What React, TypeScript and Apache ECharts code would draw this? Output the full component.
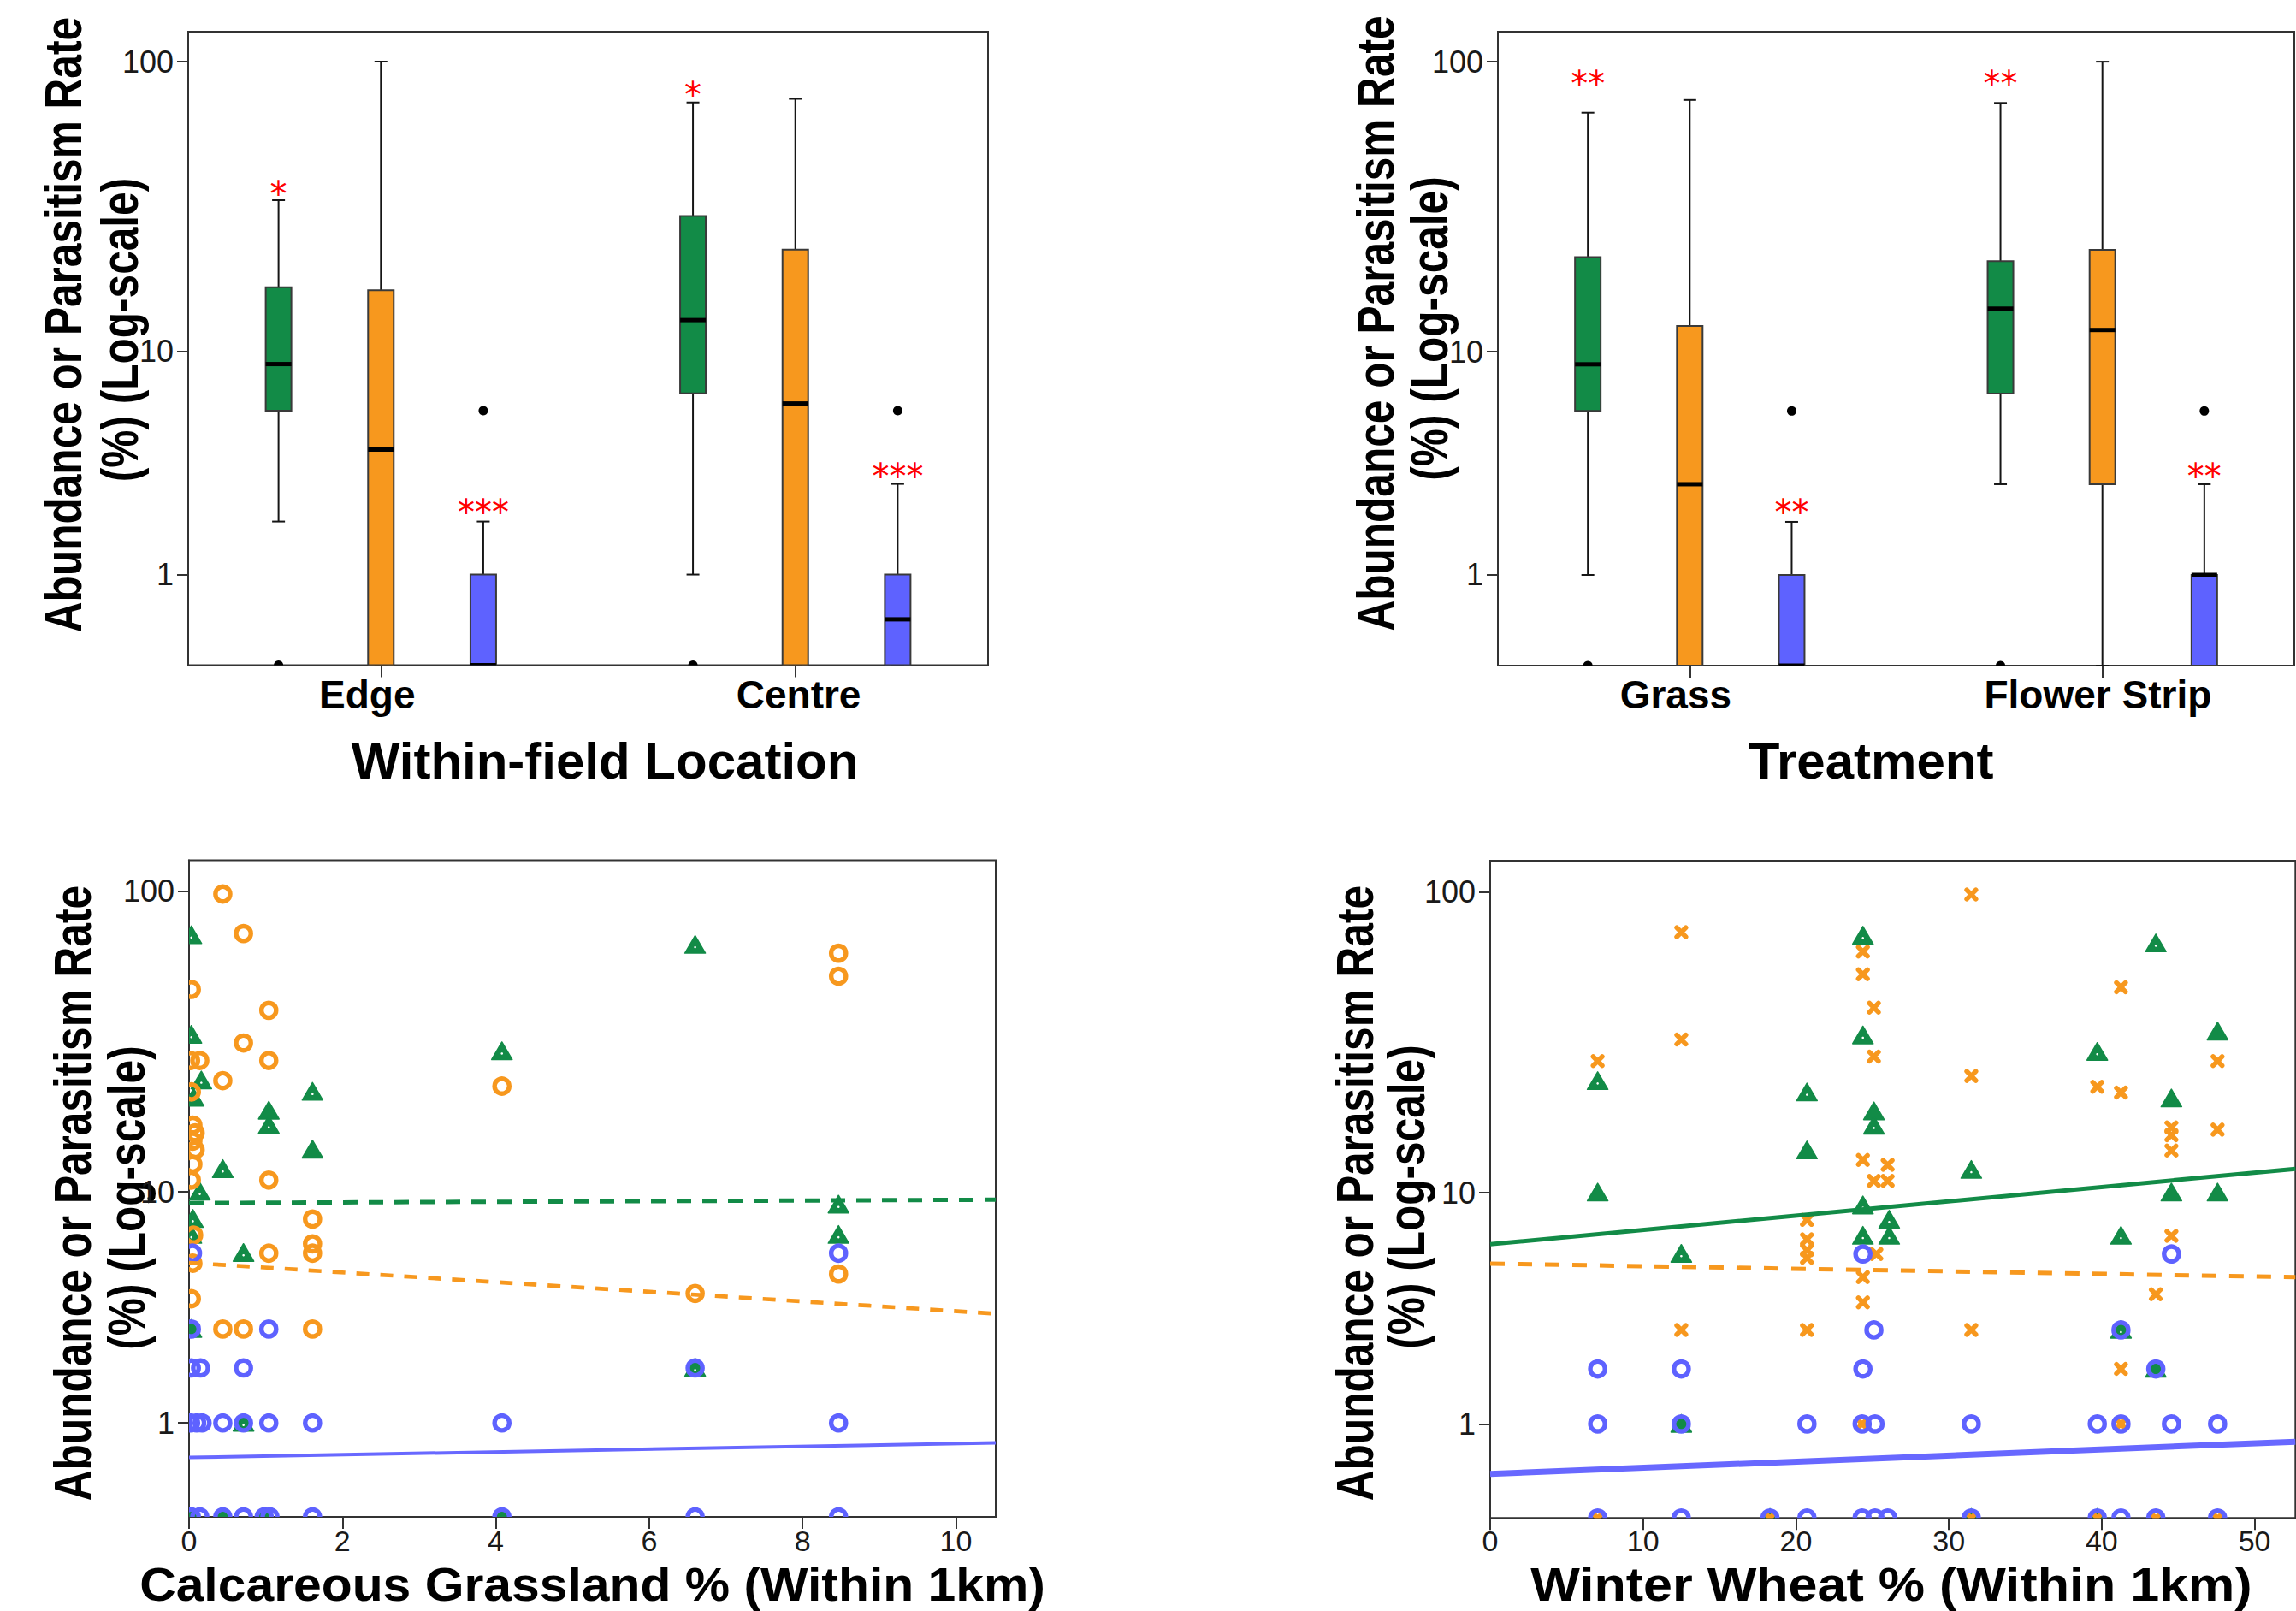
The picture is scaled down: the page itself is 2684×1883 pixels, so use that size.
import React, { useEffect, useRef } from 'react';
import * as echarts from 'echarts';

// ---------------- colours ----------------
const GREEN = '#128B47';
const ORANGE = '#F7981E';
const BLUE = '#5E62FF';
const BLUE_LINE = '#6868FF';
const STAR_RED = '#FF0000';
const AXIS = '#333333';

// log(v+1) scale used by the original figure
const Y_MAX = 2.104;
const T = (v: number) => Math.log10(v + 1);

// ---------------- top panels (box plots) ----------------
const locationCategories = ['Edge', 'Centre'];
const treatmentCategories = ['Grass', 'Flower Strip'];
const yTickValues = [1, 10, 100];
// where the category names sit (slightly off their ticks in the original)
const locationLabelPos = [0.967, 2.008];
const treatmentLabelPos = [0.966, 1.989];

// [min, q1, median, q3, max] per category
const locationGreenBox = [[2, 6, 9, 17, 34], [1, 7, 13, 30, 73]];
const locationOrangeBox = [[0, 0, 4.2, 16.6, 100], [0, 0, 6.4, 23, 75]];
const locationBlueBox = [[0, 0, 0, 1, 2], [0, 0, 0.42, 1, 3]];
const locationGreenOutliers = [0, 0];
const locationBlueOutliers = [6, 6];
const locationStarText = ['*', '***', '*', '***'];
const locationStarCategory = [0, 0, 1, 1];
const locationStarGroup = [0, 2, 0, 2];
const locationStarValue = [38, 2.4, 82, 3.5];

const treatmentGreenBox = [[1, 6, 9, 21.7, 67.4], [3, 7, 14.3, 21, 72.7]];
const treatmentOrangeBox = [[0, 0, 3, 12.4, 74.4], [0, 3, 12, 23, 100]];
const treatmentBlueBox = [[0, 0, 0, 1, 2], [0, 0, 1, 1, 3]];
const treatmentGreenOutliers = [0, 0];
const treatmentBlueOutliers = [6, 6];
const treatmentStarText = ['**', '**', '**', '**'];
const treatmentStarCategory = [0, 0, 1, 1];
const treatmentStarGroup = [0, 2, 0, 2];
const treatmentStarValue = [89.4, 2.41, 89.4, 3.5];

// ---------------- bottom-left: Calcareous Grassland % ----------------
const calcTicks = [0, 2, 4, 6, 8, 10];
const calcGreen = [[0.03, 72], [0.03, 34], [0.16, 24], [0.06, 21], [1.04, 19], [1.04, 17], [1.61, 22], [1.61, 14], [0.44, 12], [0.14, 10], [0.05, 8], [0.03, 7], [0.71, 6], [0.03, 3], [0.71, 1], [0.03, 0], [0.44, 0], [0.98, 0], [4.08, 30], [4.08, 0], [6.6, 67], [6.6, 2], [8.47, 9], [8.47, 7]];
const calcOrange = [[0.44, 98], [0.71, 73], [0.03, 48], [1.04, 41], [0.71, 32], [1.04, 28], [0.02, 28], [0.14, 28], [0.44, 24], [0.03, 22], [0.05, 17], [0.08, 16], [0.05, 15], [0.08, 14], [0.05, 12.5], [0.03, 11], [1.04, 11], [1.61, 8], [0.06, 7], [1.61, 6.5], [1.61, 6], [1.04, 6], [0.05, 5.5], [0.03, 4], [0.44, 3], [0.71, 3], [1.61, 3], [4.08, 23], [6.6, 4.2], [8.47, 63], [8.47, 53], [8.47, 5]];
const calcBlue = [[0.045, 6], [8.47, 6], [0.03, 3], [1.04, 3], [0.03, 2], [0.15, 2], [0.71, 2], [6.6, 2], [0.02, 1], [0.1, 1], [0.17, 1], [0.44, 1], [0.71, 1], [1.04, 1], [1.61, 1], [4.08, 1], [8.47, 1], [0.03, 0], [0.14, 0], [0.44, 0], [0.71, 0], [0.98, 0], [1.055, 0], [1.61, 0], [4.08, 0], [6.6, 0], [8.47, 0]];
const calcGreenFit = [[0, 9.13], [10.52, 9.38]];
const calcOrangeFit = [[0, 5.52], [10.52, 3.48]];
const calcBlueFit = [[0, 0.55], [10.52, 0.726]];

// ---------------- bottom-right: Winter Wheat % ----------------
const wheatTicks = [0, 10, 20, 30, 40, 50];
const wheatGreen = [[24.38, 72], [24.38, 34], [7.03, 24], [20.72, 22], [25.1, 19], [25.1, 17], [20.72, 14], [7.03, 10], [24.38, 9], [24.38, 7], [12.5, 6], [26.1, 8], [26.1, 7], [31.47, 12], [41.26, 7], [44.56, 10], [47.58, 10], [43.54, 68], [47.58, 35], [39.71, 30], [44.56, 21], [41.26, 3], [43.54, 2], [12.5, 1], [18.3, 0], [31.47, 0], [39.71, 0]];
const wheatOrange = [[12.5, 74], [12.5, 33], [7.03, 28], [24.38, 64], [24.38, 54], [25.1, 42], [25.1, 29], [24.38, 13], [25.1, 11], [26.0, 12.5], [26.0, 11], [20.72, 8], [20.72, 6.8], [20.72, 6.2], [20.72, 5.8], [25.26, 6], [24.38, 4.9], [24.38, 3.9], [12.5, 3], [20.72, 3], [31.47, 98], [31.47, 25], [31.47, 3], [41.26, 49], [41.26, 22], [39.71, 23], [47.58, 28], [47.58, 16.5], [44.56, 16.8], [44.56, 15.8], [44.56, 14], [44.56, 7], [43.54, 4.2], [41.26, 2], [24.33, 1], [41.26, 1], [7.03, 0], [18.3, 0], [31.47, 0], [39.71, 0], [43.54, 0], [47.58, 0]];
const wheatBlue = [[24.38, 6], [44.56, 6], [25.1, 3], [41.26, 3], [7.03, 2], [12.5, 2], [24.38, 2], [43.54, 2], [7.03, 1], [12.5, 1], [20.72, 1], [24.33, 1], [25.17, 1], [31.47, 1], [39.71, 1], [41.26, 1], [44.56, 1], [47.58, 1], [7.03, 0], [12.5, 0], [18.3, 0], [20.72, 0], [24.33, 0], [25.17, 0], [26.0, 0], [31.47, 0], [39.71, 0], [41.26, 0], [43.54, 0], [47.58, 0]];
const wheatGreenFit = [[0, 6.52], [52.67, 12.11]];
const wheatOrangeFit = [[0, 5.52], [52.67, 4.9]];
const wheatBlueFit = [[0, 0.384], [52.67, 0.7545]];

// ---------------- texts ----------------
const yTitleLine1 = 'Abundance or Parasitism Rate';
const yTitleLine2 = '(%) (Log-scale)';
const xTitles = ['Within-field Location', 'Treatment', 'Calcareous Grassland % (Within 1km)', 'Winter Wheat % (Within 1km)'];

// ---------------- layout ----------------
const grids = [
  { left: 220, top: 37, width: 935, height: 740.5 },
  { left: 1751, top: 37, width: 931, height: 741 },
  { left: 221, top: 1005.5, width: 943, height: 767.5 },
  { left: 1742, top: 1006, width: 941.3, height: 768.3 },
];
const BOX_OFFSETS = [-0.247, 0, 0.247];
const TICK_FONT = '"Liberation Sans Narrow", "Liberation Sans", Arial, sans-serif';
const TITLE_FONT = '"Liberation Sans", Arial, sans-serif';

function boxSeries(gi: number, boxes: number[][], group: number, color: string) {
  return {
    type: 'custom',
    xAxisIndex: gi,
    yAxisIndex: gi,
    clip: true,
    silent: true,
    encode: { x: 0, y: [1, 2, 3, 4, 5] },
    data: boxes.map((b, i) => [i + 1 + BOX_OFFSETS[group], ...b.map(T)]),
    renderItem: (params: any, api: any) => {
      const x = api.value(0);
      const ys = [1, 2, 3, 4, 5].map((k) => api.coord([x, api.value(k)])[1]);
      const cx = api.coord([x, 0])[0];
      const [pMin, pQ1, pMed, pQ3, pMax] = ys;
      const hw = 15;
      const cap = 7.5;
      const ls = { stroke: '#151515', lineWidth: 2 };
      return {
        type: 'group',
        children: [
          { type: 'line', shape: { x1: cx, y1: pMax, x2: cx, y2: pQ3 }, style: ls },
          { type: 'line', shape: { x1: cx - cap, y1: pMax, x2: cx + cap, y2: pMax }, style: ls },
          { type: 'line', shape: { x1: cx, y1: pQ1, x2: cx, y2: pMin }, style: ls },
          { type: 'line', shape: { x1: cx - cap, y1: pMin, x2: cx + cap, y2: pMin }, style: ls },
          { type: 'rect', shape: { x: cx - hw, y: pQ3, width: hw * 2, height: pQ1 - pQ3 }, style: { fill: color, stroke: '#3a3a3a', lineWidth: 2 } },
          { type: 'line', shape: { x1: cx - hw, y1: pMed, x2: cx + hw, y2: pMed }, style: { stroke: '#000', lineWidth: 5 } },
        ],
      };
    },
  };
}

function outlierSeries(gi: number, values: number[], group: number) {
  return {
    type: 'custom',
    xAxisIndex: gi,
    yAxisIndex: gi,
    clip: true,
    silent: true,
    encode: { x: 0, y: 1 },
    data: values.map((v, i) => [i + 1 + BOX_OFFSETS[group], T(v)]),
    renderItem: (params: any, api: any) => {
      const p = api.coord([api.value(0), api.value(1)]);
      return { type: 'circle', shape: { cx: p[0], cy: p[1], r: 5.5 }, style: { fill: '#000' } };
    },
  };
}

function starSeries(gi: number, texts: string[], cats: number[], groups: number[], values: number[]) {
  return {
    type: 'custom',
    xAxisIndex: gi,
    yAxisIndex: gi,
    silent: true,
    encode: { x: 0, y: 1 },
    data: values.map((v, i) => [cats[i] + 1 + BOX_OFFSETS[groups[i]], T(v)]),
    renderItem: (params: any, api: any) => {
      const p = api.coord([api.value(0), api.value(1)]);
      return {
        type: 'text',
        x: p[0],
        y: p[1] + 9,
        style: {
          text: texts[params.dataIndex],
          fill: STAR_RED,
          font: '40px "DejaVu Sans", sans-serif',
          textAlign: 'center',
          textVerticalAlign: 'middle',
          align: 'center',
          verticalAlign: 'middle',
        },
      };
    },
  };
}

function markerSeries(gi: number, points: number[][], kind: string, color: string) {
  return {
    type: 'custom',
    xAxisIndex: gi,
    yAxisIndex: gi,
    clip: true,
    silent: true,
    encode: { x: 0, y: 1 },
    data: points.map(([x, v]) => [x, T(v)]),
    renderItem: (params: any, api: any) => {
      const [px, py] = api.coord([api.value(0), api.value(1)]);
      if (kind === 'circle') {
        return { type: 'circle', shape: { cx: px, cy: py, r: 8.6 }, style: { fill: 'none', stroke: color, lineWidth: 5.4 } };
      }
      if (kind === 'triangle') {
        return {
          type: 'group',
          children: [
            { type: 'polygon', shape: { points: [[px, py - 11], [px - 12, py + 9.5], [px + 12, py + 9.5]] }, style: { fill: color, stroke: color, lineWidth: 1.5, lineJoin: 'round' } },
            { type: 'circle', shape: { cx: px, cy: py + 2.5, r: 1.3 }, style: { fill: '#ffffff' } },
          ],
        };
      }
      const d = 5.3;
      const st = { stroke: color, lineWidth: 5.6, lineCap: 'round' };
      return {
        type: 'group',
        children: [
          { type: 'line', shape: { x1: px - d, y1: py - d, x2: px + d, y2: py + d }, style: st },
          { type: 'line', shape: { x1: px - d, y1: py + d, x2: px + d, y2: py - d }, style: st },
        ],
      };
    },
  };
}

function fitSeries(gi: number, pts: number[][], color: string, width: number, dashed: number[] | null) {
  return {
    type: 'line',
    xAxisIndex: gi,
    yAxisIndex: gi,
    silent: true,
    symbol: 'none',
    showSymbol: false,
    data: pts.map(([x, v]) => [x, T(v)]),
    lineStyle: { color, width, type: dashed ? dashed : 'solid', cap: 'butt' },
  };
}

function yAxisFor(gi: number) {
  return {
    type: 'value',
    gridIndex: gi,
    min: 0,
    max: Y_MAX,
    splitLine: { show: false },
    axisLine: { show: true, onZero: false, lineStyle: { color: AXIS, width: 2 } },
    axisTick: { show: true, length: 13, lineStyle: { color: AXIS, width: 2 }, customValues: yTickValues.map(T) },
    axisLabel: {
      show: true,
      customValues: yTickValues.map(T),
      formatter: (v: number) => String(Math.round(Math.pow(10, v) - 1)),
      margin: 17,
      fontFamily: TICK_FONT,
      fontSize: 36,
      color: '#1a1a1a',
      padding: [10, 0, 0, 0],
    },
  };
}

function categoryXAxis(gi: number, cats: string[], labelPos: number[]) {
  return {
    type: 'value',
    gridIndex: gi,
    min: 0.535,
    max: 2.465,
    splitLine: { show: false },
    axisLine: { show: true, onZero: false, lineStyle: { color: AXIS, width: 2 } },
    axisTick: { show: true, length: 14, lineStyle: { color: AXIS, width: 2 }, customValues: [1, 2] },
    axisLabel: {
      show: true,
      customValues: labelPos,
      formatter: (v: number) => {
        let best = 0;
        labelPos.forEach((p, i) => {
          if (Math.abs(p - v) < Math.abs(labelPos[best] - v)) best = i;
        });
        return cats[best];
      },
      margin: 11,
      fontFamily: TITLE_FONT,
      fontWeight: 'bold',
      fontSize: 46,
      lineHeight: 46,
      color: '#000',
    },
  };
}

function numericXAxis(gi: number, max: number, ticks: number[], margin: number) {
  return {
    type: 'value',
    gridIndex: gi,
    min: 0,
    max,
    splitLine: { show: false },
    axisLine: { show: true, onZero: false, lineStyle: { color: AXIS, width: 2 } },
    axisTick: { show: true, length: 14, lineStyle: { color: AXIS, width: 2 }, customValues: ticks },
    axisLabel: {
      show: true,
      customValues: ticks,
      formatter: (v: number) => String(v),
      margin,
      fontFamily: TICK_FONT,
      fontSize: 34,
      lineHeight: 26,
      color: '#1a1a1a',
    },
  };
}

function yTitle(x1: number, x2: number, y1: number, y2: number) {
  const base = {
    type: 'text',
    rotation: Math.PI / 2,
    scaleX: 0.8,
    silent: true,
  };
  const st = {
    font: `bold 62px ${TITLE_FONT}`,
    fill: '#000',
    textAlign: 'center',
    textVerticalAlign: 'middle',
    align: 'center',
    verticalAlign: 'middle',
    lineHeight: 50,
  };
  return [
    { ...base, x: x1, y: y1, style: { ...st, text: yTitleLine1 } },
    { ...base, x: x2, y: y2, style: { ...st, text: yTitleLine2 } },
  ];
}

function xTitle(text: string, x: number, y: number, size: number, stretch: number) {
  return {
    type: 'text',
    x,
    y,
    scaleX: stretch,
    silent: true,
    style: {
      text,
      font: `bold ${size}px ${TITLE_FONT}`,
      fill: '#000',
      textAlign: 'center',
      textVerticalAlign: 'middle',
      align: 'center',
      verticalAlign: 'middle',
      lineHeight: 44,
    },
  };
}

function buildOption() {
  return {
    animation: false,
    backgroundColor: '#ffffff',
    grid: grids.map((g) => ({
      ...g,
      show: true,
      borderColor: AXIS,
      borderWidth: 2,
      backgroundColor: 'transparent',
      containLabel: false,
      outerBoundsMode: 'none',
    })),
    xAxis: [
      categoryXAxis(0, locationCategories, locationLabelPos),
      categoryXAxis(1, treatmentCategories, treatmentLabelPos),
      numericXAxis(2, 10.52, calcTicks, 14.7),
      numericXAxis(3, 52.67, wheatTicks, 13.4),
    ],
    yAxis: [yAxisFor(0), yAxisFor(1), yAxisFor(2), yAxisFor(3)],
    series: [
      boxSeries(0, locationGreenBox, 0, GREEN),
      boxSeries(0, locationOrangeBox, 1, ORANGE),
      boxSeries(0, locationBlueBox, 2, BLUE),
      outlierSeries(0, locationGreenOutliers, 0),
      outlierSeries(0, locationBlueOutliers, 2),
      starSeries(0, locationStarText, locationStarCategory, locationStarGroup, locationStarValue),

      boxSeries(1, treatmentGreenBox, 0, GREEN),
      boxSeries(1, treatmentOrangeBox, 1, ORANGE),
      boxSeries(1, treatmentBlueBox, 2, BLUE),
      outlierSeries(1, treatmentGreenOutliers, 0),
      outlierSeries(1, treatmentBlueOutliers, 2),
      starSeries(1, treatmentStarText, treatmentStarCategory, treatmentStarGroup, treatmentStarValue),

      fitSeries(2, calcGreenFit, GREEN, 5, [17, 13]),
      fitSeries(2, calcOrangeFit, ORANGE, 4.7, [15, 13]),
      fitSeries(2, calcBlueFit, BLUE_LINE, 4, null),
      markerSeries(2, calcGreen, 'triangle', GREEN),
      markerSeries(2, calcOrange, 'circle', ORANGE),
      markerSeries(2, calcBlue, 'circle', BLUE),

      fitSeries(3, wheatGreenFit, GREEN, 5, null),
      fitSeries(3, wheatOrangeFit, ORANGE, 5, [17, 15]),
      fitSeries(3, wheatBlueFit, BLUE_LINE, 7, null),
      markerSeries(3, wheatGreen, 'triangle', GREEN),
      markerSeries(3, wheatOrange, 'cross', ORANGE),
      markerSeries(3, wheatBlue, 'circle', BLUE),
    ],
    graphic: [
      ...yTitle(73.4, 139.2, 379.6, 385.5),
      ...yTitle(1607.6, 1670, 378, 384),
      ...yTitle(84, 147.5, 1394.6, 1400),
      ...yTitle(1583, 1643.5, 1394.6, 1399),
      xTitle(xTitles[0], 707, 889.5, 60, 1),
      xTitle(xTitles[1], 2187, 889.5, 60, 1),
      xTitle(xTitles[2], 692.5, 1851.4, 55, 1.07),
      xTitle(xTitles[3], 2211, 1851.4, 55, 1.11),
    ],
  };
}

export default function App() {
  const ref = useRef<HTMLDivElement>(null);
  useEffect(() => {
    if (!ref.current) return;
    const chart = echarts.init(ref.current, undefined, { renderer: 'svg' });
    chart.setOption(buildOption() as any);
    return () => chart.dispose();
  }, []);
  return (
    <div
      ref={ref}
      style={{ position: 'absolute', left: 0, top: 0, width: 2684, height: 1883, background: '#fff' }}
    />
  );
}
